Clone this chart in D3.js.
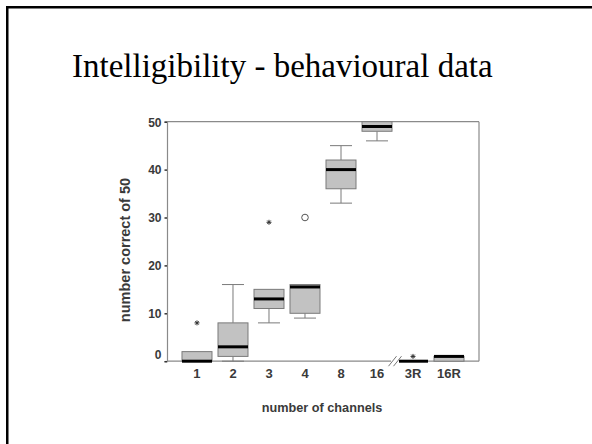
<!DOCTYPE html>
<html>
<head>
<meta charset="utf-8">
<script src="https://cdn.jsdelivr.net/npm/d3@7"></script>
<style>
  html, body { margin: 0; padding: 0; background: #fff; }
  svg { display: block; }
</style>
</head>
<body>
<svg id="chart" width="592" height="444"></svg>
<script>
// Conditions (number of channels; R = rotated)
const categories = ["1", "2", "3", "4", "8", "16", "3R", "16R"];
// Box-plot summaries: whisker low, Q1, median, Q3, whisker high
const whiskerLow = [0, 0, 8, 9, 33, 46, 0, 0];
const q1 = [0, 1, 11, 10, 36, 48, 0, 0];
const median = [0, 3, 13, 15.5, 40, 49, 0, 1];
const q3 = [2, 8, 15, 16, 42, 50, 0, 1];
const whiskerHigh = [0, 16, 15, 16, 45, 50, 0, 1];
// Outliers: category, value, marker type
const outlierCat = ["1", "3", "4", "3R"];
const outlierVal = [8, 29, 30, 1];
const outlierType = ["star", "star", "circle", "star"];
const yTicks = [0, 10, 20, 30, 40, 50];

const svg = d3.select("#chart");

// Slide frame (left and top edges)
svg.append("rect").attr("x", 6).attr("y", 6).attr("width", 2.5).attr("height", 440).attr("fill", "#000");
svg.append("rect").attr("x", 6).attr("y", 6).attr("width", 600).attr("height", 2.5).attr("fill", "#000");

// Title
svg.append("text")
  .attr("x", 72).attr("y", 76.5)
  .attr("text-anchor", "start")
  .attr("font-family", "'Liberation Serif', 'Times New Roman', serif")
  .attr("font-size", 33)
  .attr("fill", "#000")
  .text("Intelligibility - behavioural data");

const plotLeft = 167, plotRight = 479, plotTop = 121.7, plotBottom = 361.2;

const x = d3.scalePoint().domain(categories).range([plotLeft, plotRight]).padding(0.833);
const y = d3.scaleLinear().domain([0, 50]).range([plotBottom, plotTop]);

const axisColor = "#8a8a8a";
const textColor = "#3a3a3a";
const sans = "'Liberation Sans', Arial, sans-serif";

// Plot frame
const g = svg.append("g");
g.append("line").attr("x1", plotLeft).attr("x2", plotRight).attr("y1", plotTop).attr("y2", plotTop).attr("stroke", axisColor).attr("stroke-width", 1.2);
g.append("line").attr("x1", plotRight).attr("x2", plotRight).attr("y1", plotTop).attr("y2", plotBottom).attr("stroke", axisColor).attr("stroke-width", 1.2);
g.append("line").attr("x1", plotLeft).attr("x2", plotRight).attr("y1", plotBottom).attr("y2", plotBottom).attr("stroke", axisColor).attr("stroke-width", 1.2);

// Y axis
const yAxis = d3.axisLeft(y).tickValues(yTicks).tickSize(2.5).tickPadding(3);
const ya = g.append("g").attr("transform", `translate(${plotLeft},0)`).call(yAxis);
ya.select(".domain").attr("stroke", axisColor).attr("stroke-width", 1.2);
ya.selectAll(".tick line").attr("stroke", "#333").attr("stroke-width", 1.5);
ya.selectAll(".tick text")
  .attr("font-family", sans).attr("font-size", 12).attr("font-weight", "bold")
  .attr("fill", textColor)
  .attr("dy", d => d === 0 ? "-0.2em" : "0.36em");

// X category labels
g.append("g").selectAll("text").data(categories).join("text")
  .attr("x", d => x(d)).attr("y", 378)
  .attr("text-anchor", "middle")
  .attr("font-family", sans).attr("font-size", 13).attr("font-weight", "bold")
  .attr("fill", textColor)
  .text(d => d);

// Axis titles
svg.append("text")
  .attr("transform", "translate(129.5,250) rotate(-90)")
  .attr("text-anchor", "middle")
  .attr("font-family", sans).attr("font-size", 14.5).attr("font-weight", "bold")
  .attr("fill", textColor)
  .text("number correct of 50");
svg.append("text")
  .attr("x", 322).attr("y", 411.5)
  .attr("text-anchor", "middle")
  .attr("font-family", sans).attr("font-size", 12.7).attr("font-weight", "bold")
  .attr("fill", textColor)
  .text("number of channels");

// Boxes
const boxW = 30, capW = 22;
const rows = categories.map((c, i) => ({
  c, lo: whiskerLow[i], q1: q1[i], med: median[i], q3: q3[i], hi: whiskerHigh[i]
}));
const boxes = g.append("g").selectAll("g").data(rows).join("g");
const stroke = "#7a7a7a";
// whiskers
boxes.filter(d => d.hi > d.q3).append("line")
  .attr("x1", d => x(d.c)).attr("x2", d => x(d.c))
  .attr("y1", d => y(d.q3)).attr("y2", d => y(d.hi)).attr("stroke", stroke);
boxes.filter(d => d.hi > d.q3).append("line")
  .attr("x1", d => x(d.c) - capW / 2).attr("x2", d => x(d.c) + capW / 2)
  .attr("y1", d => y(d.hi)).attr("y2", d => y(d.hi)).attr("stroke", stroke);
boxes.filter(d => d.lo < d.q1).append("line")
  .attr("x1", d => x(d.c)).attr("x2", d => x(d.c))
  .attr("y1", d => y(d.q1)).attr("y2", d => y(d.lo)).attr("stroke", stroke);
boxes.filter(d => d.lo < d.q1).append("line")
  .attr("x1", d => x(d.c) - capW / 2).attr("x2", d => x(d.c) + capW / 2)
  .attr("y1", d => y(d.lo)).attr("y2", d => y(d.lo)).attr("stroke", stroke);
// box body
boxes.append("rect")
  .attr("x", d => x(d.c) - boxW / 2).attr("width", boxW)
  .attr("y", d => y(d.q3)).attr("height", d => y(d.q1) - y(d.q3))
  .attr("fill", "#c2c2c2").attr("stroke", stroke);
// median
boxes.append("line")
  .attr("x1", d => x(d.c) - boxW / 2).attr("x2", d => x(d.c) + boxW / 2)
  .attr("y1", d => y(d.med)).attr("y2", d => y(d.med))
  .attr("stroke", "#000").attr("stroke-width", 3);

// Outliers
outlierCat.forEach((c, i) => {
  const cx = x(c), cy = y(outlierVal[i]);
  if (outlierType[i] === "circle") {
    g.append("circle").attr("cx", cx).attr("cy", cy).attr("r", 3.3)
      .attr("fill", "none").attr("stroke", "#555").attr("stroke-width", 1);
  } else {
    const s = 2.5;
    const p = d3.path();
    p.moveTo(cx - s, cy); p.lineTo(cx + s, cy);
    p.moveTo(cx, cy - s); p.lineTo(cx, cy + s);
    p.moveTo(cx - s * 0.7, cy - s * 0.7); p.lineTo(cx + s * 0.7, cy + s * 0.7);
    p.moveTo(cx - s * 0.7, cy + s * 0.7); p.lineTo(cx + s * 0.7, cy - s * 0.7);
    g.append("path").attr("d", p.toString()).attr("stroke", "#333").attr("stroke-width", 1).attr("fill", "none");
  }
});

// Axis break between the normal and rotated conditions
const bx = (x("16") + x("3R")) / 2;
g.append("rect").attr("x", bx - 4).attr("y", plotBottom - 2).attr("width", 8).attr("height", 4).attr("fill", "#fff");
[-2.5, 2.5].forEach(o => {
  g.append("line")
    .attr("x1", bx + o - 4).attr("y1", plotBottom + 5)
    .attr("x2", bx + o + 4).attr("y2", plotBottom - 5)
    .attr("stroke", "#777").attr("stroke-width", 1);
});
</script>
</body>
</html>
